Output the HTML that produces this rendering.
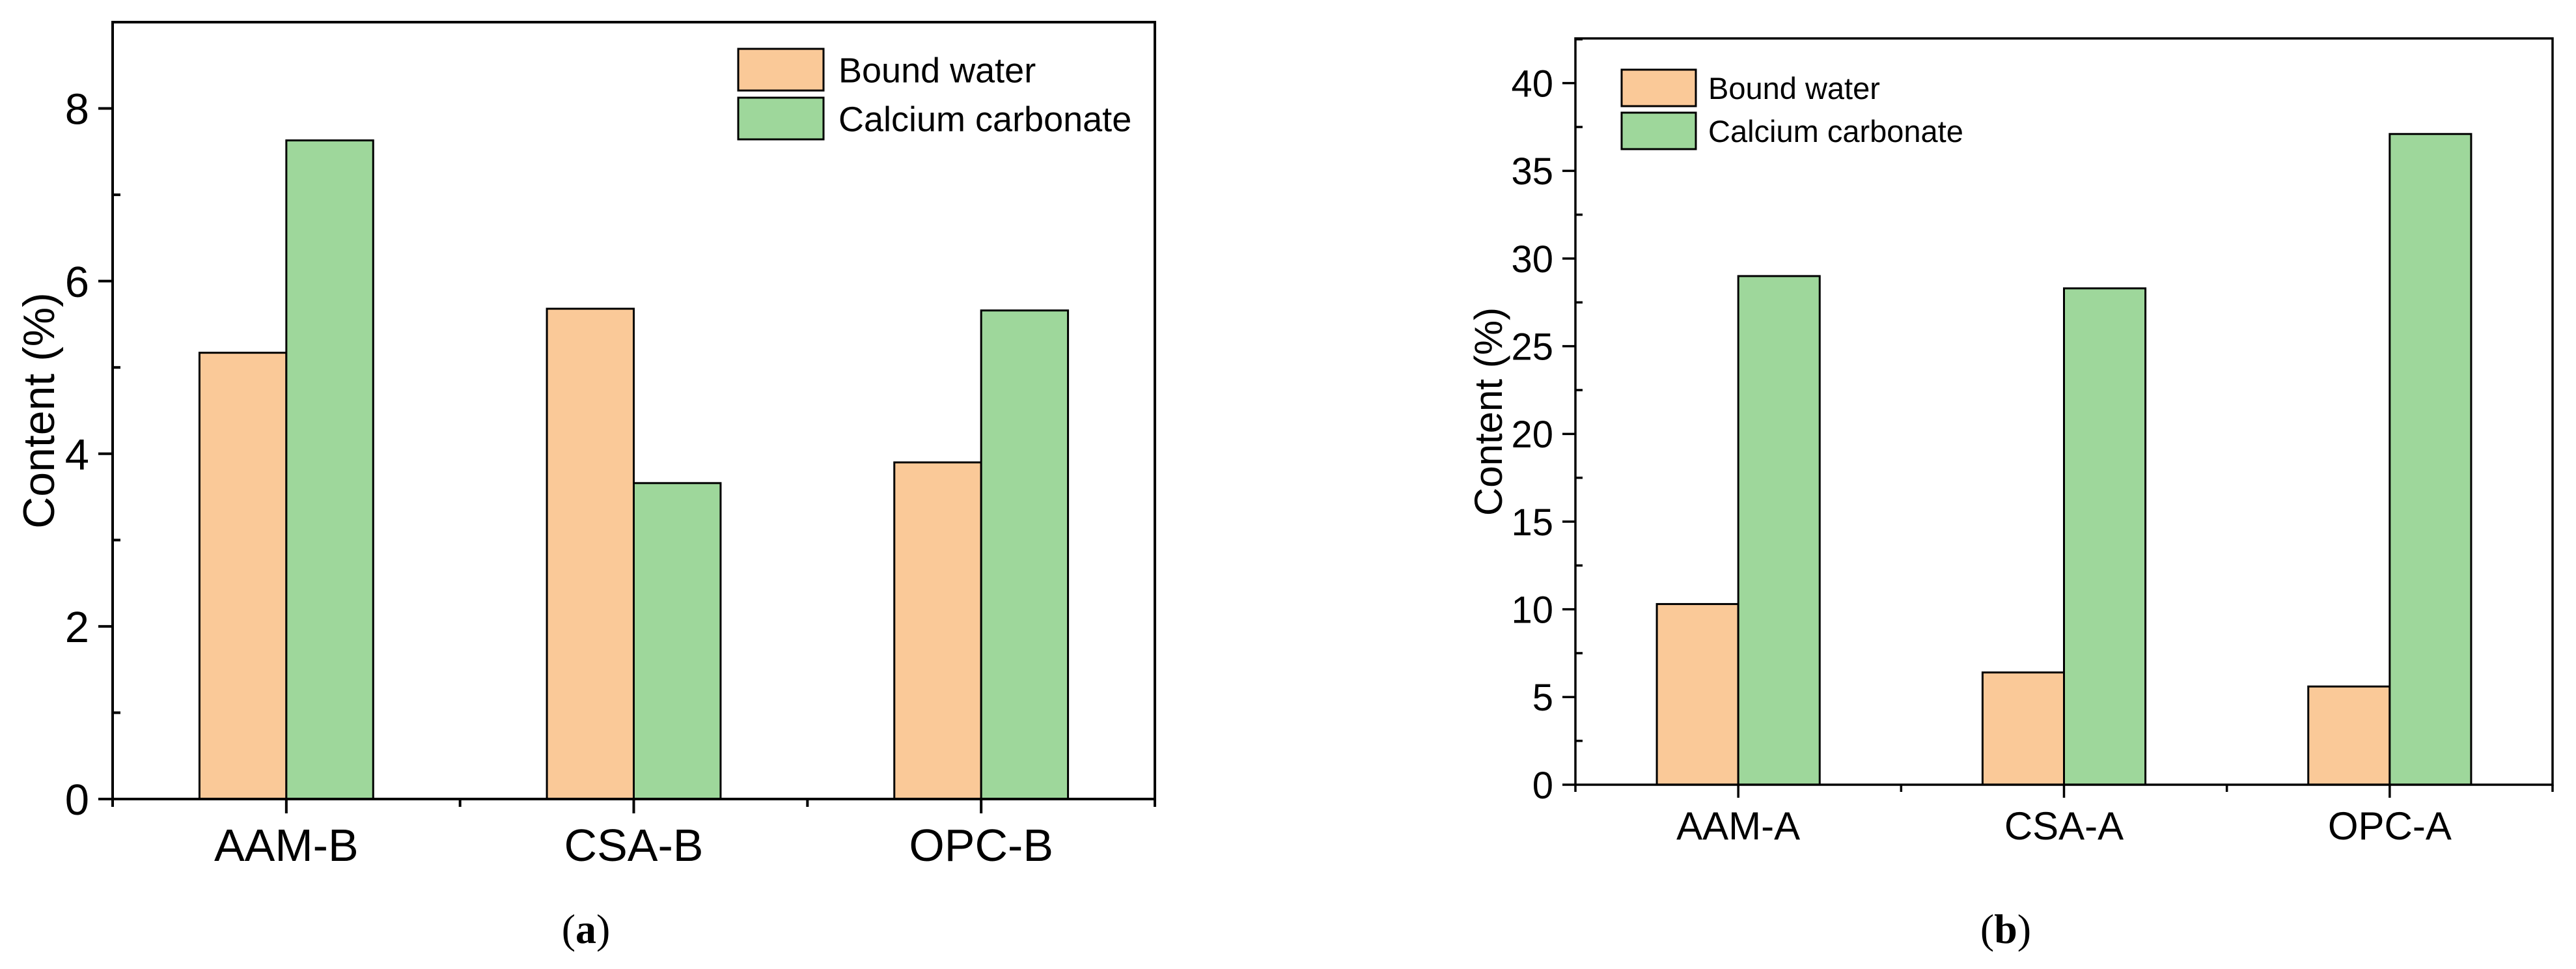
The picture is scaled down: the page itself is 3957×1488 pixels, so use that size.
<!DOCTYPE html>
<html><head><meta charset="utf-8"><style>
html,body{margin:0;padding:0;background:#fff;}
svg{display:block;}
text{font-family:"Liberation Sans",Arial,sans-serif;fill:#000;}
</style></head><body>
<svg id="fig" width="3957" height="1488" viewBox="0 0 3957 1488" xmlns="http://www.w3.org/2000/svg"></svg>
<script>
const categoriesA = ["AAM-B","CSA-B","OPC-B"];
const boundWaterA = [5.17, 5.68, 3.90];
const carbonateA = [7.63, 3.66, 5.66];
const yTicksA = [0, 2, 4, 6, 8];

const categoriesB = ["AAM-A","CSA-A","OPC-A"];
const boundWaterB = [10.3, 6.4, 5.6];
const carbonateB = [29.0, 28.3, 37.1];
const yTicksB = [0, 5, 10, 15, 20, 25, 30, 35, 40];

const NS = "http://www.w3.org/2000/svg";
const svg = document.getElementById("fig");
const ORANGE = "#FAC998", GREEN = "#9ED79B";

function mk(tag, attrs, parent) {
  const e = document.createElementNS(NS, tag);
  for (const k in attrs) e.setAttribute(k, attrs[k]);
  (parent || svg).appendChild(e);
  return e;
}

function drawChart(o) {
  const g = mk("g", {});
  
  
  const W = o.right - o.left, n = o.cats.length, cw = W / n;
  const y = v => o.bottom - (v - 0) / (o.ymax) * (o.bottom - o.top);
  const xc = i => o.left + cw * (i + 0.5);
  const bw = cw * 0.25;
  // bars
  o.cats.forEach((c, i) => {
    const r1 = mk("rect", {x: xc(i) - bw, y: y(o.s1[i]), width: bw, height: o.bottom - y(o.s1[i]), fill: ORANGE, stroke: "#000", "stroke-width": o.bs}, g);
    
    
    const r2 = mk("rect", {x: xc(i), y: y(o.s2[i]), width: bw, height: o.bottom - y(o.s2[i]), fill: GREEN, stroke: "#000", "stroke-width": o.bs}, g);
    
    
    const t = mk("text", {x: xc(i), y: o.catY, "font-size": o.catFs, "text-anchor": "middle"}, g);
    t.textContent = c;
    
    
    mk("line", {x1: xc(i), x2: xc(i), y1: o.bottom, y2: o.bottom + o.majT, stroke: "#000", "stroke-width": o.aw}, g);
    if (i > 0) mk("line", {x1: o.left + cw * i, x2: o.left + cw * i, y1: o.bottom, y2: o.bottom + o.minT, stroke: "#000", "stroke-width": o.aw}, g);
  });
  // frame
  const fr = mk("rect", {x: o.left, y: o.top, width: W, height: o.bottom - o.top, fill: "none", stroke: "#000", "stroke-width": o.aw}, g);
  
  
  mk("line", {x1: o.left, x2: o.left, y1: o.bottom, y2: o.bottom + o.minT, stroke: "#000", "stroke-width": o.aw}, g);
  mk("line", {x1: o.right, x2: o.right, y1: o.bottom, y2: o.bottom + o.minT, stroke: "#000", "stroke-width": o.aw}, g);
  // y ticks
  const step = o.ticks[1] - o.ticks[0];
  o.ticks.forEach(v => {
    mk("line", {x1: o.left - o.majT, x2: o.left, y1: y(v), y2: y(v), stroke: "#000", "stroke-width": o.aw}, g);
    const mv = v + step / 2;
    if (mv < o.ymax) mk("line", {x1: o.left, x2: o.left + o.minT, y1: y(mv), y2: y(mv), stroke: "#000", "stroke-width": o.aw}, g);
    const t = mk("text", {x: o.left - o.majT - 14, y: y(v) + o.tickFs * 0.36, "font-size": o.tickFs, "text-anchor": "end"}, g);
    t.textContent = v;
    
    
  });
  // y title
  const yt = mk("text", {x: 0, y: 0, "font-size": o.titleFs, "text-anchor": "middle", transform: `translate(${o.titleX},${(o.top + o.bottom) / 2}) rotate(-90)`}, g);
  yt.textContent = "Content (%)";
  
  
  // legend
  const L = o.leg;
  [["Bound water", ORANGE, L.y1], ["Calcium carbonate", GREEN, L.y2]].forEach(([lbl, col, ly]) => {
    const r = mk("rect", {x: L.x, y: ly, width: L.w, height: L.h, fill: col, stroke: "#000", "stroke-width": o.bs}, g);
    
    
    const t = mk("text", {x: L.tx, y: ly + L.h / 2 + L.fs * 0.36, "font-size": L.fs}, g);
    t.textContent = lbl;
    
    
  });
  // panel label
  const pl = mk("text", {x: o.panelX, y: 1448, "font-size": 64, "text-anchor": "middle", style: 'font-family:"Liberation Serif",serif'}, g);
  pl.innerHTML = '(<tspan font-weight="bold">' + o.panel + '</tspan>)';
  
  
}

drawChart({name: "chart-a", cats: categoriesA, s1: boundWaterA, s2: carbonateA, ticks: yTicksA, ymax: 9,
  left: 173, right: 1774, top: 34, bottom: 1227, aw: 4, bs: 3, majT: 22, minT: 12,
  tickFs: 67, catFs: 70, catY: 1322, titleFs: 68, titleX: 83,
  leg: {x: 1134, w: 131, h: 64, y1: 75, y2: 150, tx: 1288, fs: 54},
  panel: "a", panelX: 900});

drawChart({name: "chart-b", cats: categoriesB, s1: boundWaterB, s2: carbonateB, ticks: yTicksB, ymax: 42.55,
  left: 2420, right: 3921, top: 59, bottom: 1205, aw: 3.5, bs: 3, majT: 20, minT: 11,
  tickFs: 58, catFs: 60, catY: 1289, titleFs: 60, titleX: 2307,
  leg: {x: 2491, w: 114, h: 56, y1: 107, y2: 173, tx: 2624, fs: 47},
  panel: "b", panelX: 3081});
</script>
</body></html>
